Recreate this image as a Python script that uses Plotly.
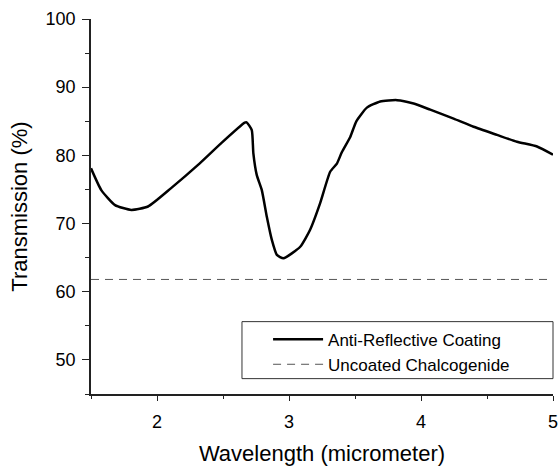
import plotly.graph_objects as go

# Data
wavelength_ar = [1.50, 1.578, 1.682, 1.806, 1.932, 2.107, 2.311, 2.487, 2.664, 2.679,
                 2.718, 2.730, 2.756, 2.794, 2.832, 2.870, 2.908, 2.958, 3.085, 3.160,
                 3.236, 3.312, 3.363, 3.401, 3.464, 3.510, 3.590, 3.691, 3.818, 3.944,
                 4.070, 4.247, 4.398, 4.576, 4.727, 4.879, 5.00]
transmission_ar = [78.1, 74.9, 72.7, 72.0, 72.5, 75.2, 78.6, 81.8, 84.8, 84.85,
                   83.7, 80.3, 77.1, 74.9, 71.0, 67.6, 65.4, 64.9, 66.6, 69.1,
                   73.0, 77.6, 78.8, 80.5, 82.7, 85.0, 87.0, 87.9, 88.1, 87.6,
                   86.7, 85.4, 84.2, 83.0, 82.0, 81.3, 80.1]

wavelength_unc = [1.5, 5.0]
transmission_unc = [61.8, 61.8]

series_names = ["Anti-Reflective Coating", "Uncoated Chalcogenide"]
x_ticks = [2, 3, 4, 5]
y_ticks = [50, 60, 70, 80, 90, 100]

FONT = "Liberation Sans, Arial, sans-serif"

fig = go.Figure()
fig.add_trace(go.Scatter(
    x=wavelength_ar, y=transmission_ar, mode="lines", name=series_names[0],
    line=dict(color="black", width=2.5, shape="spline", smoothing=0.5),
))
fig.add_trace(go.Scatter(
    x=wavelength_unc, y=transmission_unc, mode="lines", name=series_names[1],
    line=dict(color="#555555", width=1, dash="8px,6px"),
))

# legend frame (box drawn as a shape so it can span to the plot's right edge)
fig.add_shape(type="rect", xref="paper", yref="paper",
              x0=0.3268, x1=1.0, y0=0.041, y1=0.193,
              line=dict(color="#333333", width=1), fillcolor="white", layer="above")

fig.update_layout(
    width=558, height=466,
    margin=dict(l=91, r=5, t=19, b=72),
    paper_bgcolor="white", plot_bgcolor="white",
    font=dict(family=FONT, color="black", size=18),
    showlegend=True,
    legend=dict(
        x=0.327, y=0.193, xanchor="left", yanchor="top",
        bgcolor="rgba(0,0,0,0)", borderwidth=0,
        font=dict(family=FONT, size=17, color="black"),
        indentation=26,
        tracegroupgap=0, itemwidth=50,
    ),
)

fig.update_xaxes(
    range=[1.5, 5], tickvals=x_ticks, ticktext=[str(v) for v in x_ticks],
    showgrid=False, zeroline=False, automargin=False,
    showline=True, linecolor="#222222", linewidth=1.5,
    ticks="outside", ticklen=5, tickwidth=1, tickcolor="#222222",
    tickfont=dict(size=18, family=FONT), ticklabelstandoff=6, ticklabeloverflow="allow",
    minor=dict(dtick=0.5, tick0=1.5, ticks="outside", ticklen=3, tickcolor="#222222", tickwidth=1),
    title=dict(text="Wavelength (micrometer)", font=dict(size=22, family=FONT), standoff=14),
)
fig.update_yaxes(
    range=[45, 100], tickvals=y_ticks, ticktext=[str(v) for v in y_ticks],
    showgrid=False, zeroline=False, automargin=False,
    showline=True, linecolor="#222222", linewidth=1.5,
    ticks="outside", ticklen=7, tickwidth=1, tickcolor="#222222",
    tickfont=dict(size=18, family=FONT), ticklabelstandoff=3, ticklabeloverflow="allow",
    minor=dict(dtick=5, tick0=45, ticks="outside", ticklen=4, tickcolor="#222222", tickwidth=1),
    title=dict(text="Transmission (%)", font=dict(size=22, family=FONT), standoff=12),
)

fig.write_html("out.html", config={"displayModeBar": False},
               post_script="document.body.style.margin='0';document.body.style.overflow='hidden';")
